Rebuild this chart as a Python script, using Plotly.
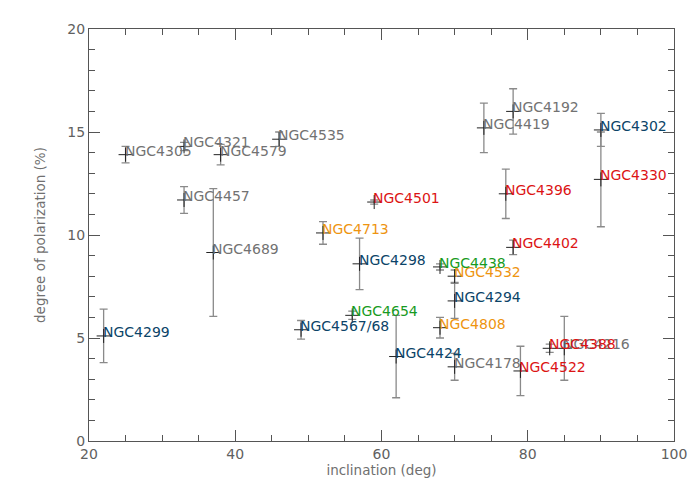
import plotly.graph_objects as go

# galaxies: name, inclination (deg), degree of polarization (%), error (%)
names = ["NGC4305", "NGC4321", "NGC4579", "NGC4535", "NGC4457", "NGC4689",
         "NGC4178", "NGC4419", "NGC4192", "NGC4216",
         "NGC4299", "NGC4298", "NGC4567/68", "NGC4424", "NGC4294", "NGC4302",
         "NGC4501", "NGC4396", "NGC4330", "NGC4402", "NGC4522", "NGC4388",
         "NGC4713", "NGC4532", "NGC4808",
         "NGC4654", "NGC4438"]
incl = [25, 33, 38, 46, 33, 37,
        70, 74, 78, 85,
        22, 57, 49, 62, 70, 90,
        59, 77, 90, 78, 79, 83,
        52, 70, 68,
        56, 68]
pol = [13.9, 14.3, 13.9, 14.65, 11.7, 9.15,
       3.6, 15.2, 16.0, 4.5,
       5.1, 8.6, 5.4, 4.1, 6.8, 15.1,
       11.6, 12.0, 12.7, 9.4, 3.4, 4.5,
       10.1, 8.0, 5.5,
       6.1, 8.45]
err = [0.4, 0.2, 0.5, 0.35, 0.65, 3.1,
       0.65, 1.2, 1.1, 1.55,
       1.3, 1.25, 0.45, 2.0, 0.85, 0.8,
       0.1, 1.2, 2.3, 0.35, 1.2, 0.2,
       0.55, 0.3, 0.5,
       0.2, 0.15]
group = ["grey"] * 10 + ["blue"] * 6 + ["red"] * 6 + ["orange"] * 3 + ["green"] * 2

colors = {"grey": "#727272", "blue": "#0b4468", "red": "#dc1414",
          "orange": "#ee9410", "green": "#179a22"}

fig = go.Figure(
    go.Scatter(
        x=incl, y=pol,
        mode="markers",
        marker=dict(symbol="cross-thin", size=10, line=dict(color="#222222", width=1)),
        error_y=dict(type="data", array=err, visible=True,
                     color="#8a8a8a", thickness=1.3, width=4),
        showlegend=False,
    )
)

for n, x, y, g in zip(names, incl, pol, group):
    fig.add_annotation(x=x, y=y, text=n, showarrow=False,
                       xanchor="left", yanchor="middle", xshift=-3, yshift=4,
                       font=dict(color=colors[g], size=14))

axis_common = dict(
    showgrid=False, zeroline=False, showline=True, linecolor="#555555",
    linewidth=1, mirror="allticks", ticks="inside", ticklen=11,
    tickcolor="#555555", tickfont=dict(color="#606060", size=14),
    title_font=dict(color="#707070", size=13.5),
)

fig.update_layout(
    width=700, height=500,
    margin=dict(l=81, r=34, t=21, b=67),
    paper_bgcolor="white", plot_bgcolor="white",
    font=dict(family="DejaVu Sans, sans-serif"),
    xaxis=dict(range=[20, 100], dtick=20, title_text="inclination (deg)",
               minor=dict(dtick=5, ticks="inside", ticklen=6, tickcolor="#555555"),
               title_standoff=2, **axis_common),
    yaxis=dict(range=[0, 20], dtick=5, title_text="degree of polarization (%)",
               minor=dict(dtick=1, ticks="inside", ticklen=6, tickcolor="#555555"),
               title_standoff=18, **axis_common),
)

fig.write_html("out.html")
